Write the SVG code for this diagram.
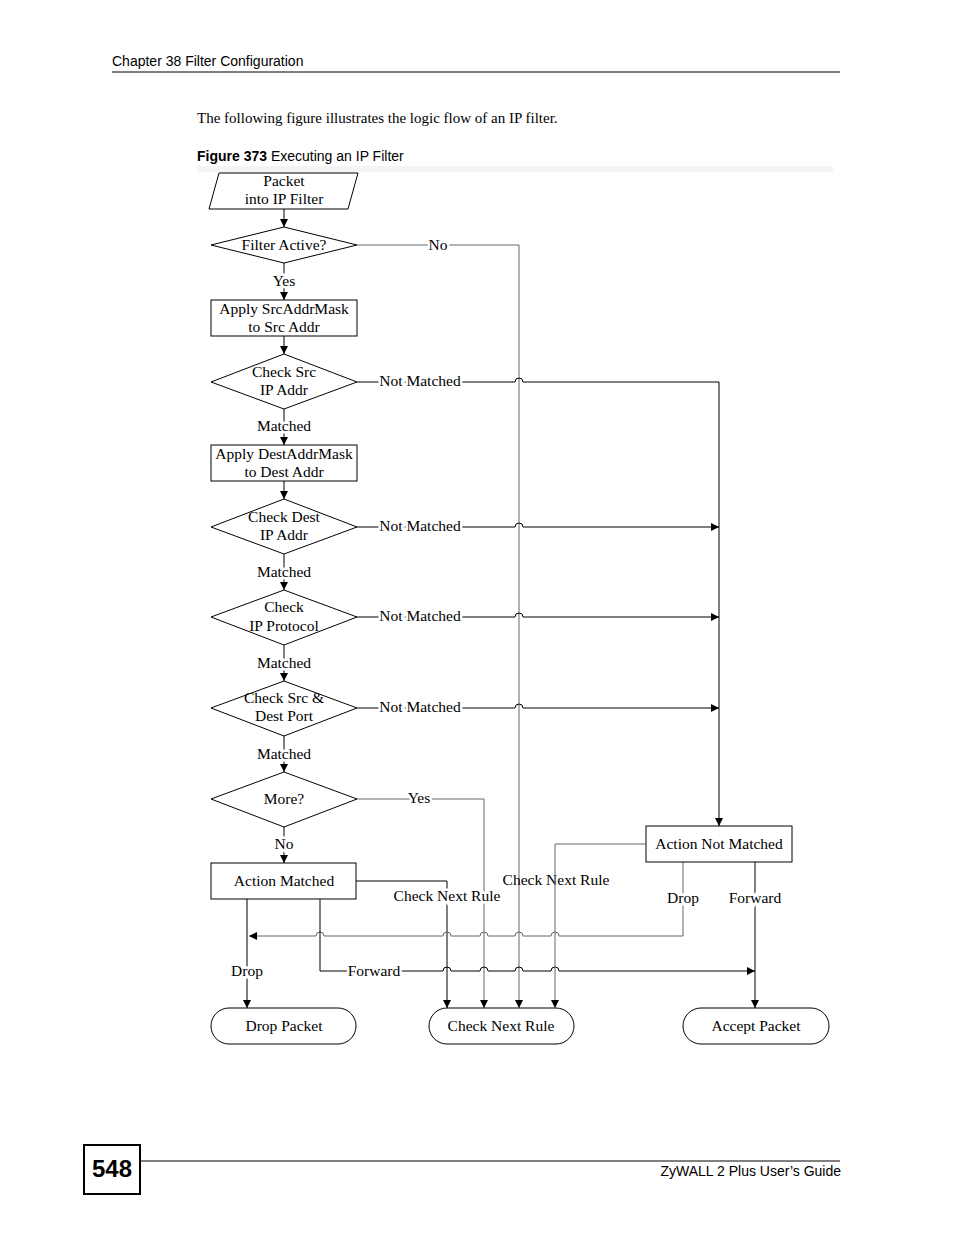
<svg xmlns="http://www.w3.org/2000/svg" width="954" height="1235" viewBox="0 0 954 1235">
<style>
.s{font-family:"Liberation Sans",Arial,sans-serif;font-size:14px;fill:#000}
.t{font-family:"Liberation Serif","Times New Roman",serif;font-size:15.5px;fill:#000;text-anchor:middle}
.l{paint-order:stroke;stroke:#fff;stroke-width:5px}
.n{fill:#fff;stroke:#000;stroke-width:1}
.c{fill:none;stroke:#000;stroke-width:1}
.g{fill:none;stroke:#666;stroke-width:1}
</style>
<defs>
<marker id="a" markerUnits="userSpaceOnUse" markerWidth="10" markerHeight="10" refX="8" refY="4" orient="auto"><path d="M0,0 L8,4 L0,8 Z" fill="#000"/></marker>
</defs>
<rect width="954" height="1235" fill="#fff"/>
<text class="s" x="112" y="66">Chapter 38 Filter Configuration</text>
<line x1="112" y1="72" x2="840" y2="72" stroke="#000"/>
<text x="197" y="123" style="font-family:'Liberation Serif',serif;font-size:15px">The following figure illustrates the logic flow of an IP filter.</text>
<text class="s" x="197" y="161"><tspan font-weight="bold">Figure 373</tspan>   Executing an IP Filter</text>
<rect x="197" y="166" width="636" height="6" fill="#f4f4f4"/>
<g id="connectors">
<path class="c" d="M284 209 V227" marker-end="url(#a)"/>
<path class="c" d="M284 263 V300" marker-end="url(#a)"/>
<path class="c" d="M284 336 V354" marker-end="url(#a)"/>
<path class="c" d="M284 409 V445" marker-end="url(#a)"/>
<path class="c" d="M284 481 V499" marker-end="url(#a)"/>
<path class="c" d="M284 554 V590" marker-end="url(#a)"/>
<path class="c" d="M284 645 V681" marker-end="url(#a)"/>
<path class="c" d="M284 736 V772" marker-end="url(#a)"/>
<path class="c" d="M284 827 V863" marker-end="url(#a)"/>
<path class="g" d="M357 245 H519 V1008" marker-end="url(#a)"/>
<path class="c" d="M357 382 H515 a4 4 0 0 1 8 0 H719 V826" marker-end="url(#a)"/>
<path class="c" d="M357 527 H515 a4 4 0 0 1 8 0 H719" marker-end="url(#a)"/>
<path class="c" d="M357 617 H515 a4 4 0 0 1 8 0 H719" marker-end="url(#a)"/>
<path class="c" d="M357 708 H515 a4 4 0 0 1 8 0 H719" marker-end="url(#a)"/>
<path class="g" d="M357 799 H484 V1008" marker-end="url(#a)"/>
<path class="c" d="M356 881 H447 V1008" marker-end="url(#a)"/>
<path class="g" d="M683 862 V936 H559 a4 4 0 0 0 -8 0 H523 a4 4 0 0 0 -8 0 H488 a4 4 0 0 0 -8 0 H451 a4 4 0 0 0 -8 0 H324 a4 4 0 0 0 -8 0 H249" marker-end="url(#a)"/>
<path class="c" d="M247 899 V1008" marker-end="url(#a)"/>
<path class="c" d="M320 899 V971 H443 a4 4 0 0 1 8 0 H480 a4 4 0 0 1 8 0 H515 a4 4 0 0 1 8 0 H551 a4 4 0 0 1 8 0 H755" marker-end="url(#a)"/>
<path class="c" d="M755 862 V1008" marker-end="url(#a)"/>
<text class="t l" x="438" y="250">No</text>
<text class="t l" x="284" y="286">Yes</text>
<text class="t l" x="420" y="386">Not Matched</text>
<text class="t l" x="284" y="431">Matched</text>
<text class="t l" x="420" y="531">Not Matched</text>
<text class="t l" x="284" y="577">Matched</text>
<text class="t l" x="420" y="621">Not Matched</text>
<text class="t l" x="284" y="668">Matched</text>
<text class="t l" x="420" y="712">Not Matched</text>
<text class="t l" x="284" y="759">Matched</text>
<text class="t l" x="419" y="803">Yes</text>
<text class="t l" x="284" y="849">No</text>
<text class="t l" x="447" y="901">Check Next Rule</text>
<text class="t" x="556" y="885">Check Next Rule</text>
<text class="t l" x="683" y="903">Drop</text>
<text class="t l" x="755" y="903">Forward</text>
<text class="t l" x="247" y="976">Drop</text>
<text class="t l" x="374" y="976">Forward</text>
</g>
<g id="start"><path class="n" d="M219 173 H358 L348 209 H209 Z"/><text class="t" x="284" y="186">Packet</text><text class="t" x="284" y="204">into IP Filter</text></g>
<g id="filterActive"><path class="n" d="M284 227 L357 245 L284 263 L211 245 Z"/><text class="t" x="284" y="250">Filter Active?</text></g>
<g id="applySrc"><rect class="n" x="211" y="300" width="146" height="36"/><text class="t" x="284" y="314">Apply SrcAddrMask</text><text class="t" x="284" y="332">to  Src Addr</text></g>
<g id="checkSrc"><path class="n" d="M284 354 L357 382 L284 409 L211 382 Z"/><text class="t" x="284" y="377">Check Src</text><text class="t" x="284" y="395">IP Addr</text></g>
<g id="applyDest"><rect class="n" x="211" y="445" width="146" height="36"/><text class="t" x="284" y="459">Apply DestAddrMask</text><text class="t" x="284" y="477">to  Dest Addr</text></g>
<g id="checkDest"><path class="n" d="M284 499 L357 527 L284 554 L211 527 Z"/><text class="t" x="284" y="522">Check Dest</text><text class="t" x="284" y="540">IP Addr</text></g>
<g id="checkProto"><path class="n" d="M284 590 L357 617 L284 645 L211 617 Z"/><text class="t" x="284" y="612">Check</text><text class="t" x="284" y="631">IP Protocol</text></g>
<g id="checkPort"><path class="n" d="M284 681 L357 708 L284 736 L211 708 Z"/><text class="t" x="284" y="703">Check  Src &amp;</text><text class="t" x="284" y="721">Dest Port</text></g>
<g id="more"><path class="n" d="M284 772 L357 799 L284 827 L211 799 Z"/><text class="t" x="284" y="804">More?</text></g>
<g id="actionMatched"><rect class="n" x="211" y="863" width="145" height="36"/><text class="t" x="284" y="886">Action Matched</text></g>
<g id="actionNotMatched"><rect class="n" x="646" y="826" width="146" height="36"/><text class="t" x="719" y="849">Action Not Matched</text></g>
<g id="dropPacket"><rect class="n" x="211" y="1008" width="145" height="36" rx="18"/><text class="t" x="284" y="1031">Drop Packet</text></g>
<g id="checkNext"><rect class="n" x="429" y="1008" width="145" height="36" rx="18"/><text class="t" x="501" y="1031">Check Next Rule</text></g>
<g id="accept"><rect class="n" x="683" y="1008" width="146" height="36" rx="18"/><text class="t" x="756" y="1031">Accept Packet</text></g>
<path class="g" d="M646 844 H555 V1008" marker-end="url(#a)"/>
<rect x="84" y="1145" width="56" height="49" fill="#fff" stroke="#000" stroke-width="2"/>
<text x="112" y="1177" text-anchor="middle" style="font-family:'Liberation Sans',sans-serif;font-size:24px;font-weight:bold">548</text>
<line x1="140" y1="1161" x2="840" y2="1161" stroke="#000"/>
<text class="s" x="841" y="1176" text-anchor="end">ZyWALL 2 Plus User’s Guide</text>
</svg>
